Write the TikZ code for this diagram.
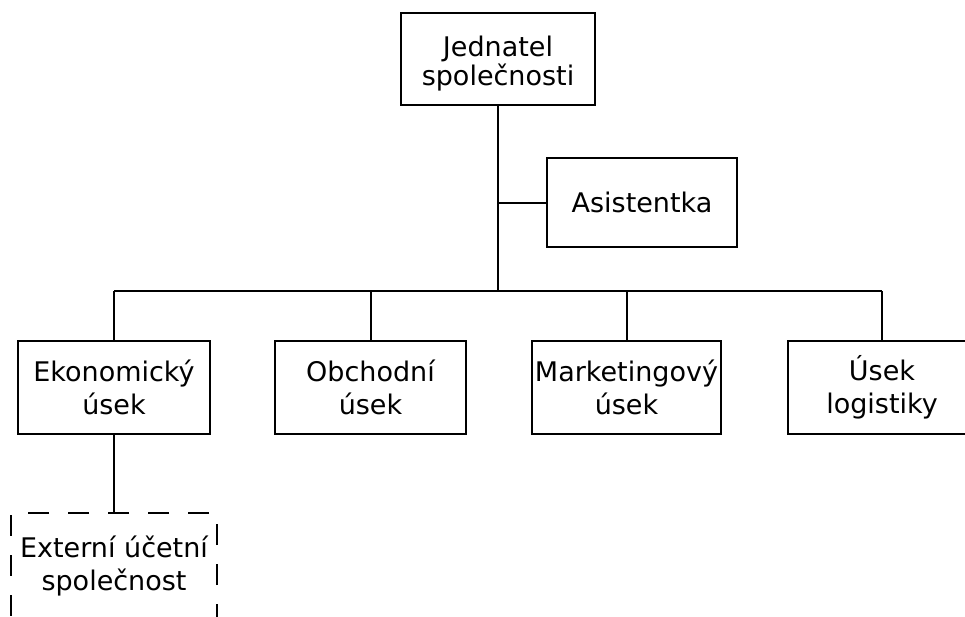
\documentclass[tikz,border=0pt]{standalone}
\usepackage{fontspec}
\setmainfont{DejaVu Sans}
\begin{document}
\begin{tikzpicture}[x=1pt,y=-1pt,
  box/.style={draw,line width=2pt,align=center,inner sep=0pt,
    font=\fontsize{27}{33}\selectfont},
  dashbox/.style={box,dash pattern=on 21pt off 19pt},
  link/.style={line width=2pt}]
\useasboundingbox (0,0) rectangle (965,616);
% top management
\node[box,minimum width=194pt,minimum height=92pt] (jed) at (498,59) {\rule{0pt}{29pt}Jednatel\\[-4pt]společnosti};
\node[box,minimum width=190pt,minimum height=89pt] (asi) at (642,202.5) {Asistentka};
% departments
\node[box,minimum width=192pt,minimum height=93pt] (eko) at (114,387.5) {Ekonomický\\úsek};
\node[box,minimum width=191pt,minimum height=93pt] (obc) at (370.5,387.5) {Obchodní\\úsek};
\node[box,minimum width=189pt,minimum height=93pt] (mar) at (626.5,387.5) {Marketingový\\úsek};
\node[box,minimum width=188pt,minimum height=93pt] (log) at (882,387.5) {Úsek\\logistiky};
% external service
\node[dashbox,minimum width=206pt,minimum height=106pt] (ext) at (114,566) {Externí účetní\\společnost};
% connectors
\coordinate (bus) at (498,291);
\draw[link] (jed.south) -- (jed.south |- bus);
\draw[link] (jed.south |- asi.west) -- (asi.west);
\draw[link] (eko.north |- bus) -- (log.north |- bus);
\foreach \n in {eko,obc,mar,log}
  \draw[link] (\n.north |- bus) -- (\n.north);
\draw[link] (eko.south) -- (ext.north -| eko.south);
\end{tikzpicture}
\end{document}
